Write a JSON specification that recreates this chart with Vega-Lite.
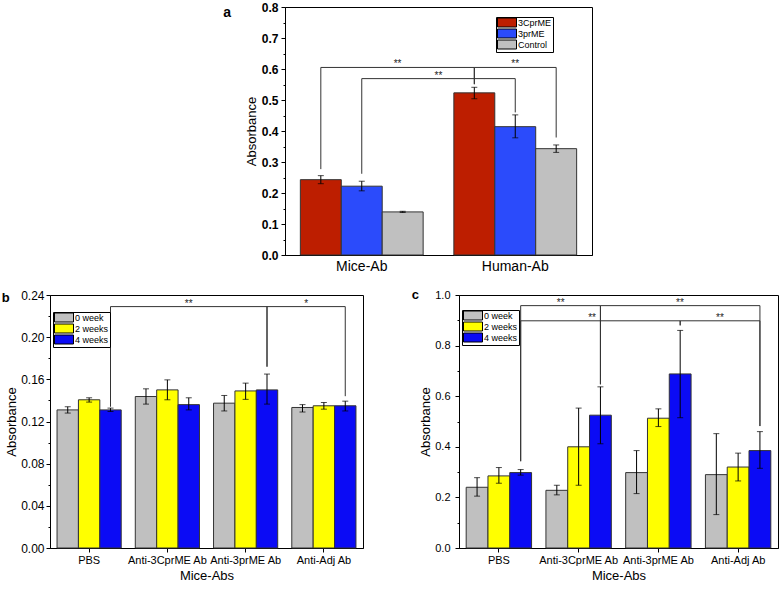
{
  "$schema": "https://vega.github.io/schema/vega-lite/v6.json",
  "background": "white",
  "padding": {"left": 1, "top": 0, "right": 0, "bottom": 0},
  "config": {
    "font": "Liberation Sans",
    "view": {"stroke": "black", "strokeWidth": 1},
    "axis": {"grid": false, "domainColor": "black", "tickColor": "black", "labelColor": "black", "titleColor": "black", "titleFontWeight": "normal", "labelOverlap": false},
    "legend": {"title": null, "orient": "none", "symbolType": "M-1,-1.125H3.75V1.125H-1Z", "symbolSize": 64, "symbolStrokeColor": "black", "symbolStrokeWidth": 1, "symbolOpacity": 1, "labelFontSize": 9, "labelOffset": 12, "rowPadding": -4, "padding": 1, "strokeColor": "black", "fillColor": "white", "labelColor": "black"},
    "title": {"anchor": "start", "frame": "bounds", "fontWeight": "bold", "baseline": "alphabetic", "color": "black"}
  },
  "datasets": {
    "aBars": [
      {"grp": "Mice-Ab", "s": "3CprME", "v": 0.243, "lo": 0.230, "hi": 0.256},
      {"grp": "Mice-Ab", "s": "3prME", "v": 0.222, "lo": 0.207, "hi": 0.238},
      {"grp": "Mice-Ab", "s": "Control", "v": 0.139, "lo": 0.137, "hi": 0.141},
      {"grp": "Human-Ab", "s": "3CprME", "v": 0.523, "lo": 0.504, "hi": 0.541},
      {"grp": "Human-Ab", "s": "3prME", "v": 0.414, "lo": 0.378, "hi": 0.452},
      {"grp": "Human-Ab", "s": "Control", "v": 0.343, "lo": 0.331, "hi": 0.355}
    ],
    "aBr": [
      {"br": "a1", "o": 1, "grp": "Mice-Ab", "s": "3CprME", "y": 0.277},
      {"br": "a1", "o": 2, "grp": "Mice-Ab", "s": "3CprME", "y": 0.605},
      {"br": "a1", "o": 3, "grp": "Human-Ab", "s": "3CprME", "y": 0.605},
      {"br": "a1", "o": 4, "grp": "Human-Ab", "s": "3CprME", "y": 0.551},
      {"br": "a2", "o": 1, "grp": "Mice-Ab", "s": "3prME", "y": 0.262},
      {"br": "a2", "o": 2, "grp": "Mice-Ab", "s": "3prME", "y": 0.569},
      {"br": "a2", "o": 3, "grp": "Human-Ab", "s": "3prME", "y": 0.569},
      {"br": "a2", "o": 4, "grp": "Human-Ab", "s": "3prME", "y": 0.46},
      {"br": "a3", "o": 1, "grp": "Human-Ab", "s": "3CprME", "y": 0.551},
      {"br": "a3", "o": 2, "grp": "Human-Ab", "s": "3CprME", "y": 0.605},
      {"br": "a3", "o": 3, "grp": "Human-Ab", "s": "Control", "y": 0.605},
      {"br": "a3", "o": 4, "grp": "Human-Ab", "s": "Control", "y": 0.379}
    ],
    "stars": [
      {"id": "a1", "t": "**", "y": 0.605},
      {"id": "a2", "t": "**", "y": 0.569},
      {"id": "a3", "t": "**", "y": 0.605},
      {"id": "b1", "t": "**", "y": 0.229},
      {"id": "b2", "t": "*", "y": 0.229},
      {"id": "cA", "t": "**", "y": 0.958},
      {"id": "cB", "t": "**", "y": 0.898},
      {"id": "cC", "t": "**", "y": 0.958},
      {"id": "cD", "t": "**", "y": 0.898}
    ],
    "bBars": [
      {"grp": "PBS", "s": "0 week", "v": 0.131, "lo": 0.128, "hi": 0.134},
      {"grp": "PBS", "s": "2 weeks", "v": 0.1406, "lo": 0.1384, "hi": 0.1425},
      {"grp": "PBS", "s": "4 weeks", "v": 0.131, "lo": 0.1295, "hi": 0.1327},
      {"grp": "Anti-3CprME Ab", "s": "0 week", "v": 0.1437, "lo": 0.1365, "hi": 0.151},
      {"grp": "Anti-3CprME Ab", "s": "2 weeks", "v": 0.150, "lo": 0.1406, "hi": 0.1595},
      {"grp": "Anti-3CprME Ab", "s": "4 weeks", "v": 0.136, "lo": 0.131, "hi": 0.1425},
      {"grp": "Anti-3prME Ab", "s": "0 week", "v": 0.1374, "lo": 0.130, "hi": 0.1447},
      {"grp": "Anti-3prME Ab", "s": "2 weeks", "v": 0.149, "lo": 0.141, "hi": 0.1564},
      {"grp": "Anti-3prME Ab", "s": "4 weeks", "v": 0.150, "lo": 0.1365, "hi": 0.165},
      {"grp": "Anti-Adj Ab", "s": "0 week", "v": 0.1333, "lo": 0.129, "hi": 0.136},
      {"grp": "Anti-Adj Ab", "s": "2 weeks", "v": 0.1349, "lo": 0.1317, "hi": 0.138},
      {"grp": "Anti-Adj Ab", "s": "4 weeks", "v": 0.1349, "lo": 0.130, "hi": 0.1393}
    ],
    "bBr": [
      {"br": "b1", "o": 1, "grp": "PBS", "s": "4 weeks", "y": 0.134},
      {"br": "b1", "o": 2, "grp": "PBS", "s": "4 weeks", "y": 0.229},
      {"br": "b1", "o": 3, "grp": "Anti-3prME Ab", "s": "4 weeks", "y": 0.229},
      {"br": "b1", "o": 4, "grp": "Anti-3prME Ab", "s": "4 weeks", "y": 0.172},
      {"br": "b2", "o": 1, "grp": "Anti-3prME Ab", "s": "4 weeks", "y": 0.172},
      {"br": "b2", "o": 2, "grp": "Anti-3prME Ab", "s": "4 weeks", "y": 0.229},
      {"br": "b2", "o": 3, "grp": "Anti-Adj Ab", "s": "4 weeks", "y": 0.229},
      {"br": "b2", "o": 4, "grp": "Anti-Adj Ab", "s": "4 weeks", "y": 0.144}
    ],
    "cBars": [
      {"grp": "PBS", "s": "0 week", "v": 0.24, "lo": 0.205, "hi": 0.278},
      {"grp": "PBS", "s": "2 weeks", "v": 0.285, "lo": 0.256, "hi": 0.318},
      {"grp": "PBS", "s": "4 weeks", "v": 0.298, "lo": 0.288, "hi": 0.31},
      {"grp": "Anti-3CprME Ab", "s": "0 week", "v": 0.228, "lo": 0.21, "hi": 0.248},
      {"grp": "Anti-3CprME Ab", "s": "2 weeks", "v": 0.40, "lo": 0.248, "hi": 0.553},
      {"grp": "Anti-3CprME Ab", "s": "4 weeks", "v": 0.525, "lo": 0.412, "hi": 0.637},
      {"grp": "Anti-3prME Ab", "s": "0 week", "v": 0.298, "lo": 0.215, "hi": 0.385},
      {"grp": "Anti-3prME Ab", "s": "2 weeks", "v": 0.513, "lo": 0.48, "hi": 0.55},
      {"grp": "Anti-3prME Ab", "s": "4 weeks", "v": 0.688, "lo": 0.515, "hi": 0.86},
      {"grp": "Anti-Adj Ab", "s": "0 week", "v": 0.29, "lo": 0.132, "hi": 0.452},
      {"grp": "Anti-Adj Ab", "s": "2 weeks", "v": 0.32, "lo": 0.265, "hi": 0.375},
      {"grp": "Anti-Adj Ab", "s": "4 weeks", "v": 0.385, "lo": 0.315, "hi": 0.46}
    ],
    "cBr": [
      {"br": "cA", "o": 1, "grp": "PBS", "s": "4 weeks", "y": 0.343},
      {"br": "cA", "o": 2, "grp": "PBS", "s": "4 weeks", "y": 0.958},
      {"br": "cA", "o": 3, "grp": "Anti-3CprME Ab", "s": "4 weeks", "y": 0.958},
      {"br": "cA", "o": 4, "grp": "Anti-3CprME Ab", "s": "4 weeks", "y": 0.647},
      {"br": "cB", "o": 1, "grp": "PBS", "s": "4 weeks", "y": 0.343},
      {"br": "cB", "o": 2, "grp": "PBS", "s": "4 weeks", "y": 0.898},
      {"br": "cB", "o": 3, "grp": "Anti-3prME Ab", "s": "4 weeks", "y": 0.898},
      {"br": "cB", "o": 4, "grp": "Anti-3prME Ab", "s": "4 weeks", "y": 0.88},
      {"br": "cC", "o": 1, "grp": "Anti-3CprME Ab", "s": "4 weeks", "y": 0.647},
      {"br": "cC", "o": 2, "grp": "Anti-3CprME Ab", "s": "4 weeks", "y": 0.958},
      {"br": "cC", "o": 3, "grp": "Anti-Adj Ab", "s": "4 weeks", "y": 0.958},
      {"br": "cC", "o": 4, "grp": "Anti-Adj Ab", "s": "4 weeks", "y": 0.482},
      {"br": "cD", "o": 1, "grp": "Anti-3prME Ab", "s": "4 weeks", "y": 0.88},
      {"br": "cD", "o": 2, "grp": "Anti-3prME Ab", "s": "4 weeks", "y": 0.898},
      {"br": "cD", "o": 3, "grp": "Anti-Adj Ab", "s": "4 weeks", "y": 0.898},
      {"br": "cD", "o": 4, "grp": "Anti-Adj Ab", "s": "4 weeks", "y": 0.482}
    ]
  },
  "spacing": 14,
  "resolve": {"scale": {"fill": "independent", "xOffset": "independent", "x": "independent", "y": "independent"}, "legend": {"fill": "independent"}},
  "vconcat": [
    {
      "spacing": 0,
      "resolve": {"scale": {"fill": "independent", "xOffset": "independent", "x": "independent", "y": "independent"}, "legend": {"fill": "independent"}},
      "hconcat": [
        {"width": 172, "height": 10, "view": {"stroke": null}, "data": {"values": []}, "mark": {"type": "point", "opacity": 0}, "encoding": {}},
        {
          "width": 307, "height": 248,
          "title": {"text": "a", "fontSize": 14, "offset": -19, "dx": -22},
          "layer": [
            {
              "data": {"name": "aBars"},
              "mark": {"type": "bar", "stroke": "#333333", "strokeWidth": 1},
              "encoding": {
                "x": {"field": "grp", "type": "nominal", "sort": ["Mice-Ab", "Human-Ab"], "scale": {"type": "band", "paddingInner": 0.2, "paddingOuter": 0.1},
                      "axis": {"title": null, "labelAngle": 0, "ticks": false, "labelPadding": 4, "labelFontSize": 14}},
                "xOffset": {"field": "s", "type": "nominal", "sort": ["3CprME", "3prME", "Control"], "scale": {"paddingInner": 0, "paddingOuter": 0}},
                "y": {"field": "v", "type": "quantitative", "scale": {"domain": [0, 0.8], "nice": false},
                      "axis": {"title": "Absorbance", "values": [0, 0.05, 0.1, 0.15, 0.2, 0.25, 0.3, 0.35, 0.4, 0.45, 0.5, 0.55, 0.6, 0.65, 0.7, 0.75, 0.8],
                               "tickCount": 100, "labelOverlap": false,
                               "labelExpr": "abs(datum.value*10-round(datum.value*10))<0.01 ? format(datum.value,'.1f') : ''",
                               "tickSize": {"condition": {"test": "abs(datum.value*10-round(datum.value*10))<0.01", "value": 4}, "value": 2},
                               "labelFontSize": 12, "labelFontWeight": "bold", "labelPadding": 3, "titleFontSize": 13, "titlePadding": 3}},
                "fill": {"field": "s", "type": "nominal", "sort": ["3CprME", "3prME", "Control"],
                         "scale": {"domain": ["3CprME", "3prME", "Control"], "range": ["#BD1E00", "#2B4BFB", "#C0C0C0"]},
                         "legend": {"legendX": 211, "legendY": 10}}
              }
            },
            {
              "data": {"name": "aBars"},
              "mark": {"type": "rule", "color": "black", "strokeWidth": 1},
              "encoding": {
                "x": {"field": "grp", "type": "nominal", "sort": ["Mice-Ab", "Human-Ab"]},
                "xOffset": {"field": "s", "type": "nominal", "sort": ["3CprME", "3prME", "Control"]},
                "y": {"field": "lo", "type": "quantitative"},
                "y2": {"field": "hi"}
              }
            },
            {
              "data": {"name": "aBars"},
              "mark": {"type": "tick", "color": "black", "size": 6, "thickness": 1},
              "encoding": {
                "x": {"field": "grp", "type": "nominal", "sort": ["Mice-Ab", "Human-Ab"]},
                "xOffset": {"field": "s", "type": "nominal", "sort": ["3CprME", "3prME", "Control"]},
                "y": {"field": "lo", "type": "quantitative"}
              }
            },
            {
              "data": {"name": "aBars"},
              "mark": {"type": "tick", "color": "black", "size": 6, "thickness": 1},
              "encoding": {
                "x": {"field": "grp", "type": "nominal", "sort": ["Mice-Ab", "Human-Ab"]},
                "xOffset": {"field": "s", "type": "nominal", "sort": ["3CprME", "3prME", "Control"]},
                "y": {"field": "hi", "type": "quantitative"}
              }
            },
            {
              "data": {"name": "aBr"},
              "mark": {"type": "line", "color": "#333333", "strokeWidth": 1},
              "encoding": {
                "x": {"field": "grp", "type": "nominal", "sort": ["Mice-Ab", "Human-Ab"]},
                "xOffset": {"field": "s", "type": "nominal", "sort": ["3CprME", "3prME", "Control"]},
                "y": {"field": "y", "type": "quantitative"},
                "detail": {"field": "br", "type": "nominal"},
                "order": {"field": "o", "type": "quantitative"}
              }
            },
            {
              "data": {"name": "stars"}, "transform": [{"filter": "datum.id === 'a1'"}],
              "mark": {"type": "text", "baseline": "alphabetic", "fontSize": 10, "color": "#222222"},
              "encoding": {"x": {"datum": "Mice-Ab", "bandPosition": 0.792}, "y": {"field": "y", "type": "quantitative"}, "text": {"field": "t"}}
            },
            {
              "data": {"name": "stars"}, "transform": [{"filter": "datum.id === 'a2'"}],
              "mark": {"type": "text", "baseline": "alphabetic", "fontSize": 10, "color": "#222222"},
              "encoding": {"x": {"datum": "Mice-Ab", "bandPosition": 1.125}, "y": {"field": "y", "type": "quantitative"}, "text": {"field": "t"}}
            },
            {
              "data": {"name": "stars"}, "transform": [{"filter": "datum.id === 'a3'"}],
              "mark": {"type": "text", "baseline": "alphabetic", "fontSize": 10, "color": "#222222"},
              "encoding": {"x": {"datum": "Human-Ab", "bandPosition": 0.5}, "y": {"field": "y", "type": "quantitative"}, "text": {"field": "t"}}
            }
          ]
        }
      ]
    },
    {
      "spacing": 47,
      "resolve": {"scale": {"fill": "independent", "xOffset": "independent", "x": "independent", "y": "independent"}, "legend": {"fill": "independent"}},
      "hconcat": [
        {
          "width": 313, "height": 253,
          "title": {"text": "b", "fontSize": 13, "offset": -16, "dx": -4},
          "layer": [
            {
              "data": {"name": "bBars"},
              "mark": {"type": "bar", "stroke": "#333333", "strokeWidth": 1},
              "encoding": {
                "x": {"field": "grp", "type": "nominal", "sort": ["PBS", "Anti-3CprME Ab", "Anti-3prME Ab", "Anti-Adj Ab"], "scale": {"type": "band", "paddingInner": 0.18, "paddingOuter": 0.09},
                      "axis": {"title": "Mice-Abs", "labelAngle": 0, "tickSize": 4, "labelPadding": 2, "labelFontSize": 11, "titleFontSize": 13, "titlePadding": 4}},
                "xOffset": {"field": "s", "type": "nominal", "sort": ["0 week", "2 weeks", "4 weeks"], "scale": {"paddingInner": 0, "paddingOuter": 0}},
                "y": {"field": "v", "type": "quantitative", "scale": {"domain": [0, 0.24], "nice": false},
                      "axis": {"title": "Absorbance", "values": [0, 0.02, 0.04, 0.06, 0.08, 0.1, 0.12, 0.14, 0.16, 0.18, 0.2, 0.22, 0.24],
                               "tickCount": 100, "labelOverlap": false,
                               "labelExpr": "round(datum.value*100)%4===0 ? format(datum.value,'.2f') : ''",
                               "tickSize": {"condition": {"test": "round(datum.value*100)%4===0", "value": 4}, "value": 2},
                               "labelFontSize": 12, "labelPadding": 2, "titleFontSize": 13, "titlePadding": 2}},
                "fill": {"field": "s", "type": "nominal", "sort": ["0 week", "2 weeks", "4 weeks"],
                         "scale": {"domain": ["0 week", "2 weeks", "4 weeks"], "range": ["#C0C0C0", "#FFFF00", "#0B0BF5"]},
                         "legend": {"legendX": 3, "legendY": 17}}
              }
            },
            {
              "data": {"name": "bBars"},
              "mark": {"type": "rule", "color": "black", "strokeWidth": 1},
              "encoding": {
                "x": {"field": "grp", "type": "nominal", "sort": ["PBS", "Anti-3CprME Ab", "Anti-3prME Ab", "Anti-Adj Ab"]},
                "xOffset": {"field": "s", "type": "nominal", "sort": ["0 week", "2 weeks", "4 weeks"]},
                "y": {"field": "lo", "type": "quantitative"},
                "y2": {"field": "hi"}
              }
            },
            {
              "data": {"name": "bBars"},
              "mark": {"type": "tick", "color": "black", "size": 6, "thickness": 1},
              "encoding": {
                "x": {"field": "grp", "type": "nominal", "sort": ["PBS", "Anti-3CprME Ab", "Anti-3prME Ab", "Anti-Adj Ab"]},
                "xOffset": {"field": "s", "type": "nominal", "sort": ["0 week", "2 weeks", "4 weeks"]},
                "y": {"field": "lo", "type": "quantitative"}
              }
            },
            {
              "data": {"name": "bBars"},
              "mark": {"type": "tick", "color": "black", "size": 6, "thickness": 1},
              "encoding": {
                "x": {"field": "grp", "type": "nominal", "sort": ["PBS", "Anti-3CprME Ab", "Anti-3prME Ab", "Anti-Adj Ab"]},
                "xOffset": {"field": "s", "type": "nominal", "sort": ["0 week", "2 weeks", "4 weeks"]},
                "y": {"field": "hi", "type": "quantitative"}
              }
            },
            {
              "data": {"name": "bBr"},
              "mark": {"type": "line", "color": "#333333", "strokeWidth": 1},
              "encoding": {
                "x": {"field": "grp", "type": "nominal", "sort": ["PBS", "Anti-3CprME Ab", "Anti-3prME Ab", "Anti-Adj Ab"]},
                "xOffset": {"field": "s", "type": "nominal", "sort": ["0 week", "2 weeks", "4 weeks"]},
                "y": {"field": "y", "type": "quantitative"},
                "detail": {"field": "br", "type": "nominal"},
                "order": {"field": "o", "type": "quantitative"}
              }
            },
            {
              "data": {"name": "stars"}, "transform": [{"filter": "datum.id === 'b1'"}],
              "mark": {"type": "text", "baseline": "alphabetic", "fontSize": 10, "color": "#222222"},
              "encoding": {"x": {"datum": "Anti-3CprME Ab", "bandPosition": 0.833}, "y": {"field": "y", "type": "quantitative"}, "text": {"field": "t"}}
            },
            {
              "data": {"name": "stars"}, "transform": [{"filter": "datum.id === 'b2'"}],
              "mark": {"type": "text", "baseline": "alphabetic", "fontSize": 10, "color": "#222222"},
              "encoding": {"x": {"datum": "Anti-Adj Ab", "bandPosition": 0.223}, "y": {"field": "y", "type": "quantitative"}, "text": {"field": "t"}}
            }
          ]
        },
        {
          "width": 319, "height": 253,
          "title": {"text": "c", "fontSize": 13, "offset": -13, "dx": -8},
          "layer": [
            {
              "data": {"name": "cBars"},
              "mark": {"type": "bar", "stroke": "#333333", "strokeWidth": 1},
              "encoding": {
                "x": {"field": "grp", "type": "nominal", "sort": ["PBS", "Anti-3CprME Ab", "Anti-3prME Ab", "Anti-Adj Ab"], "scale": {"type": "band", "paddingInner": 0.18, "paddingOuter": 0.09},
                      "axis": {"title": "Mice-Abs", "labelAngle": 0, "tickSize": 4, "labelPadding": 2, "labelFontSize": 11, "titleFontSize": 13, "titlePadding": 4}},
                "xOffset": {"field": "s", "type": "nominal", "sort": ["0 week", "2 weeks", "4 weeks"], "scale": {"paddingInner": 0, "paddingOuter": 0}},
                "y": {"field": "v", "type": "quantitative", "scale": {"domain": [0, 1], "nice": false},
                      "axis": {"title": "Absorbance", "values": [0, 0.1, 0.2, 0.3, 0.4, 0.5, 0.6, 0.7, 0.8, 0.9, 1],
                               "tickCount": 100, "labelOverlap": false,
                               "labelExpr": "round(datum.value*10)%2===0 ? format(datum.value,'.1f') : ''",
                               "tickSize": {"condition": {"test": "round(datum.value*10)%2===0", "value": 4}, "value": 2},
                               "labelFontSize": 11, "labelPadding": 5, "titleFontSize": 13, "titlePadding": 2}},
                "fill": {"field": "s", "type": "nominal", "sort": ["0 week", "2 weeks", "4 weeks"],
                         "scale": {"domain": ["0 week", "2 weeks", "4 weeks"], "range": ["#C0C0C0", "#FFFF00", "#0B0BF5"]},
                         "legend": {"legendX": 3, "legendY": 15}}
              }
            },
            {
              "data": {"name": "cBars"},
              "mark": {"type": "rule", "color": "black", "strokeWidth": 1},
              "encoding": {
                "x": {"field": "grp", "type": "nominal", "sort": ["PBS", "Anti-3CprME Ab", "Anti-3prME Ab", "Anti-Adj Ab"]},
                "xOffset": {"field": "s", "type": "nominal", "sort": ["0 week", "2 weeks", "4 weeks"]},
                "y": {"field": "lo", "type": "quantitative"},
                "y2": {"field": "hi"}
              }
            },
            {
              "data": {"name": "cBars"},
              "mark": {"type": "tick", "color": "black", "size": 6, "thickness": 1},
              "encoding": {
                "x": {"field": "grp", "type": "nominal", "sort": ["PBS", "Anti-3CprME Ab", "Anti-3prME Ab", "Anti-Adj Ab"]},
                "xOffset": {"field": "s", "type": "nominal", "sort": ["0 week", "2 weeks", "4 weeks"]},
                "y": {"field": "lo", "type": "quantitative"}
              }
            },
            {
              "data": {"name": "cBars"},
              "mark": {"type": "tick", "color": "black", "size": 6, "thickness": 1},
              "encoding": {
                "x": {"field": "grp", "type": "nominal", "sort": ["PBS", "Anti-3CprME Ab", "Anti-3prME Ab", "Anti-Adj Ab"]},
                "xOffset": {"field": "s", "type": "nominal", "sort": ["0 week", "2 weeks", "4 weeks"]},
                "y": {"field": "hi", "type": "quantitative"}
              }
            },
            {
              "data": {"name": "cBr"},
              "mark": {"type": "line", "color": "#333333", "strokeWidth": 1},
              "encoding": {
                "x": {"field": "grp", "type": "nominal", "sort": ["PBS", "Anti-3CprME Ab", "Anti-3prME Ab", "Anti-Adj Ab"]},
                "xOffset": {"field": "s", "type": "nominal", "sort": ["0 week", "2 weeks", "4 weeks"]},
                "y": {"field": "y", "type": "quantitative"},
                "detail": {"field": "br", "type": "nominal"},
                "order": {"field": "o", "type": "quantitative"}
              }
            },
            {
              "data": {"name": "stars"}, "transform": [{"filter": "datum.id === 'cA'"}],
              "mark": {"type": "text", "baseline": "alphabetic", "fontSize": 10, "color": "#222222"},
              "encoding": {"x": {"datum": "Anti-3CprME Ab", "bandPosition": 0.225}, "y": {"field": "y", "type": "quantitative"}, "text": {"field": "t"}}
            },
            {
              "data": {"name": "stars"}, "transform": [{"filter": "datum.id === 'cB'"}],
              "mark": {"type": "text", "baseline": "alphabetic", "fontSize": 10, "color": "#222222"},
              "encoding": {"x": {"datum": "Anti-3CprME Ab", "bandPosition": 0.705}, "y": {"field": "y", "type": "quantitative"}, "text": {"field": "t"}}
            },
            {
              "data": {"name": "stars"}, "transform": [{"filter": "datum.id === 'cC'"}],
              "mark": {"type": "text", "baseline": "alphabetic", "fontSize": 10, "color": "#222222"},
              "encoding": {"x": {"datum": "Anti-3prME Ab", "bandPosition": 0.83}, "y": {"field": "y", "type": "quantitative"}, "text": {"field": "t"}}
            },
            {
              "data": {"name": "stars"}, "transform": [{"filter": "datum.id === 'cD'"}],
              "mark": {"type": "text", "baseline": "alphabetic", "fontSize": 10, "color": "#222222"},
              "encoding": {"x": {"datum": "Anti-Adj Ab", "bandPosition": 0.223}, "y": {"field": "y", "type": "quantitative"}, "text": {"field": "t"}}
            }
          ]
        }
      ]
    }
  ]
}
